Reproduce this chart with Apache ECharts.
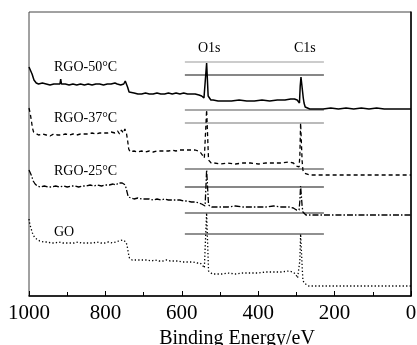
<!DOCTYPE html>
<html>
<head>
<meta charset="utf-8">
<script src="https://cdn.jsdelivr.net/npm/echarts@6/dist/echarts.min.js"></script>
<style>
  html, body { margin: 0; padding: 0; background: #fff; }
  #chart { width: 417px; height: 345px; }
</style>
</head>
<body>
<div id="chart"></div>
<script>
// binding energy (eV) / intensity (a.u., curves offset vertically)
var xTicks = [0, 200, 400, 600, 800, 1000];

var rgo50 = [
  [1000,229],[996,227],[992,222],[987,216],[981,213],[975,212],[965,213],[955,212],[945,211],[935,212],
  [925,212],[919,212],[917,217],[915,212],[905,212],[895,211],[885,212],[875,211],[865,212],[855,211],
  [845,212],[835,211],[825,212],[815,212],[805,211],[795,212],[785,212],[775,213],[769,212],[765,214],
  [760,211],[757,209],[752,212],[748,215],[745,214],[742,209],[738,204],[734,202],[725,203],[715,202],
  [705,202],[695,203],[685,202],[675,202],[665,203],[655,202],[645,202],[635,203],[625,202],[615,203],
  [605,202],[595,203],[585,202],[575,202],[565,202],[555,201],[548,200],[542,198],[539,196],[537,199],
  [535,233],[533,233],[531,200],[528,198],[524,196],[518,196],[505,195],[490,195],[470,195],[450,196],
  [430,195],[410,195],[390,196],[370,195],[350,196],[330,196],[315,197],[305,197],[298,196],[294,194],
  [292,193],[290,210],[288,219],[286,219],[284,219],[282,198],[280,193],[277,189],[272,188],[265,187],
  [250,187],[230,187],[210,188],[190,187],[170,188],[150,187],[130,188],[110,187],[90,188],[70,187],
  [50,187],[30,187],[0,187]
];

var rgo37 = [
  [1000,188],[997,183],[994,176],[991,168],[988,164],[983,162],[975,161],[965,162],[955,161],[945,160],
  [935,162],[925,161],[915,161],[905,162],[895,161],[885,162],[875,161],[865,162],[855,162],[845,162],
  [835,163],[825,162],[815,163],[805,163],[795,163],[785,164],[775,163],[768,165],[763,162],[758,166],
  [753,163],[749,167],[745,163],[742,156],[739,147],[735,144],[725,145],[715,144],[705,145],[695,144],
  [685,145],[675,144],[665,145],[655,145],[645,145],[635,145],[625,146],[615,145],[605,146],[595,146],
  [585,146],[575,146],[565,146],[557,145],[550,143],[545,141],[541,138],[538,137],[535,186],[532,186],
  [530,136],[527,134],[523,133],[515,133],[500,132],[480,133],[460,132],[440,133],[420,133],[400,132],
  [380,133],[360,133],[340,133],[320,134],[308,133],[300,130],[296,128],[293,129],[291,140],[289,173],
  [287,173],[285,135],[283,126],[280,123],[275,121],[265,121],[245,121],[225,121],[205,121],[185,121],
  [165,121],[145,121],[125,121],[105,121],[85,121],[65,121],[45,121],[25,121],[0,121]
];

var rgo25 = [
  [1000,126],[997,124],[993,120],[989,115],[984,112],[978,110],[970,109],[960,110],[950,109],[940,109],
  [930,110],[920,109],[910,110],[900,109],[890,110],[880,110],[870,109],[860,110],[850,110],[840,111],
  [830,110],[820,111],[810,110],[800,111],[790,111],[780,112],[772,111],[766,113],[761,111],[756,113],
  [752,114],[748,111],[744,105],[740,99],[736,97],[725,97],[715,98],[705,97],[695,97],[685,97],
  [675,96],[665,97],[655,96],[645,97],[635,96],[625,96],[615,96],[605,96],[595,95],[585,95],
  [575,94],[565,94],[555,93],[548,92],[543,91],[539,90],[536,92],[535,126],[532,126],[530,91],
  [527,90],[522,89],[515,89],[500,89],[480,89],[460,90],[440,89],[420,89],[400,89],[380,89],
  [360,90],[340,89],[320,89],[308,88],[300,86],[296,85],[293,86],[291,95],[289,110],[287,110],
  [285,90],[283,84],[280,82],[275,81],[265,81],[245,81],[225,81],[205,81],[185,81],[165,81],
  [145,81],[125,81],[105,81],[85,81],[65,81],[45,81],[25,81],[0,81]
];

var go = [
  [1000,77],[998,72],[995,68],[991,63],[986,59],[980,57],[972,55],[962,54],[952,54],[942,53],
  [932,53],[922,54],[912,53],[902,53],[892,53],[882,53],[872,54],[862,53],[852,53],[842,53],
  [832,53],[822,54],[812,53],[802,53],[792,54],[782,53],[772,54],[765,55],[760,54],[755,56],
  [750,55],[746,54],[743,50],[740,43],[737,38],[730,36],[720,36],[710,36],[700,36],[690,36],
  [680,35],[670,36],[660,35],[650,35],[640,36],[630,35],[620,35],[610,35],[600,34],[590,34],
  [580,34],[570,34],[560,33],[552,33],[546,31],[541,28],[537,30],[535,83],[532,83],[530,25],
  [526,23],[520,22],[510,22],[495,22],[480,23],[460,22],[440,23],[420,23],[400,23],[380,24],
  [360,24],[340,24],[320,25],[310,24],[302,22],[297,18],[293,17],[291,35],[289,62],[287,62],
  [285,30],[283,16],[280,13],[275,11],[268,10],[255,10],[235,10],[215,10],[195,10],[175,10],
  [155,10],[135,10],[115,10],[95,10],[75,10],[55,10],[35,10],[15,10],[0,10]
];

// horizontal guide lines between the curves
var guideX = [592, 228];
var guideY = [234, 221, 186, 173, 127, 109, 83, 62];
var guideColor = ['#9a9a9a', '#111', '#555', '#777', '#333', '#111', '#222', '#222'];

var curveLabels = ['RGO-50°C', 'RGO-37°C', 'RGO-25°C', 'GO'];
var peakLabels = ['O1s', 'C1s'];

var serif = '"Liberation Serif", "DejaVu Serif", serif';

var chart = echarts.init(document.getElementById('chart'));

var series = [];
guideY.forEach(function (y, i) {
  series.push({
    type: 'line',
    data: [[guideX[0], y], [guideX[1], y]],
    symbol: 'none',
    silent: true,
    lineStyle: { color: guideColor[i], width: 1.2 }
  });
});

function curve(data, dash, width) {
  return {
    type: 'line',
    data: data,
    symbol: 'none',
    lineStyle: { color: '#000', width: width, type: dash }
  };
}
series.push(curve(rgo50, 'solid', 1.5));
series.push(curve(rgo37, [4, 3], 1.3));
series.push(curve(rgo25, [6, 2, 1.5, 2], 1.3));
series.push(curve(go, [1.3, 2.2], 1.3));

var option = {
  animation: false,
  backgroundColor: '#fff',
  grid: {
    left: 29, right: 6, top: 12, bottom: 49,
    outerBoundsMode: 'none',
    containLabel: false,
    show: true, borderColor: '#444', borderWidth: 1
  },
  xAxis: {
    type: 'value',
    min: 0, max: 1000, interval: 200,
    inverse: true,
    name: 'Binding Energy/eV',
    nameLocation: 'middle',
    nameGap: 27,
    nameTextStyle: { fontFamily: serif, fontSize: 20, color: '#000', padding: [0, 0, 0, 34] },
    axisLine: { lineStyle: { color: '#000', width: 1.5 } },
    axisTick: { inside: true, length: 5, lineStyle: { color: '#000' } },
    minorTick: { show: true, splitNumber: 2, length: 4, lineStyle: { color: '#000' } },
    splitLine: { show: false },
    axisLabel: {
      fontFamily: serif, fontSize: 21, color: '#000', margin: 7,
      formatter: function (v) { return xTicks.indexOf(v) >= 0 ? String(v) : ''; }
    }
  },
  yAxis: {
    type: 'value',
    min: 0, max: 284,
    axisLine: { show: true, lineStyle: { color: '#000', width: 1.5 } },
    axisTick: { show: false },
    axisLabel: { show: false },
    splitLine: { show: false }
  },
  graphic: [
    { type: 'text', left: 54, top: 60, style: { text: curveLabels[0], font: '14px ' + serif, fill: '#000' } },
    { type: 'text', left: 54, top: 111, style: { text: curveLabels[1], font: '14px ' + serif, fill: '#000' } },
    { type: 'text', left: 54, top: 164, style: { text: curveLabels[2], font: '14px ' + serif, fill: '#000' } },
    { type: 'text', left: 54, top: 225, style: { text: curveLabels[3], font: '14px ' + serif, fill: '#000' } },
    { type: 'text', left: 198, top: 41, style: { text: peakLabels[0], font: '14px ' + serif, fill: '#000' } },
    { type: 'text', left: 294, top: 41, style: { text: peakLabels[1], font: '14px ' + serif, fill: '#000' } }
  ],
  series: series
};

chart.setOption(option);
</script>
</body>
</html>
